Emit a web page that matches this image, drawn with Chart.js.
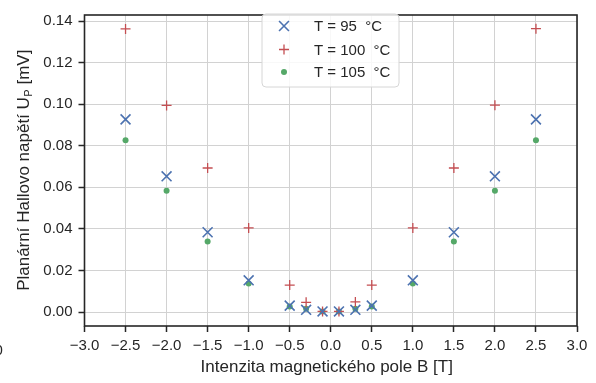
<!DOCTYPE html>
<html>
<head>
<meta charset="utf-8">
<script src="https://cdn.jsdelivr.net/npm/chart.js@4/dist/chart.umd.min.js"></script>
<style>
html,body{margin:0;padding:0;background:#fff;}
#wrap{width:596px;height:383px;position:relative;}
</style>
</head>
<body>
<div id="wrap"><canvas id="c" width="596" height="383"></canvas></div>
<script>
// ---- data ----
const bField = [-2.5, -2, -1.5, -1, -0.5, -0.3, -0.1, 0.1, 0.3, 0.5, 1, 1.5, 2, 2.5];
const u95  = [0.0927, 0.0653, 0.0384, 0.0153, 0.0031, 0.0011, 0.0003, 0.0003, 0.0011, 0.0031, 0.0153, 0.0384, 0.0653, 0.0927];
const u100 = [0.1362, 0.0994, 0.0693, 0.0405, 0.0130, 0.0047, 0.0003, 0.0003, 0.0049, 0.0130, 0.0405, 0.0693, 0.0995, 0.1363];
const u105 = [0.0826, 0.0584, 0.0340, 0.0137, 0.0027, 0.0016, 0.0003, 0.0003, 0.0016, 0.0027, 0.0137, 0.0340, 0.0584, 0.0826];
const seriesLabels = ['T = 95  °C', 'T = 100  °C', 'T = 105  °C'];
const xTicks = [-3, -2.5, -2, -1.5, -1, -0.5, 0, 0.5, 1, 1.5, 2, 2.5, 3];
const yTicks = [0, 0.02, 0.04, 0.06, 0.08, 0.10, 0.12, 0.14];
const xTitle = 'Intenzita magnetického pole B [T]';
const yTitleMain = 'Planární Hallovo napětí U';
const yTitleSub = 'P';
const yTitleEnd = ' [mV]';

const pts = arr => bField.map((b, i) => ({x: b, y: arr[i]}));
const FONT = '"Liberation Sans", Arial, sans-serif';
const TXT = '#262626';

const datasets = [
  {label: seriesLabels[0], data: pts(u95), pointStyle: 'crossRot', pointRadius: 7, borderColor: '#4C72B0', backgroundColor: '#4C72B0', pointBorderWidth: 1.6},
  {label: seriesLabels[1], data: pts(u100), pointStyle: 'cross', pointRadius: 5, borderColor: '#C44E52', backgroundColor: '#C44E52', pointBorderWidth: 1.3},
  {label: seriesLabels[2], data: pts(u105), pointStyle: 'circle', pointRadius: 3, borderColor: '#55A868', backgroundColor: '#55A868', pointBorderWidth: 0}
];

const fmtMinus = s => s.replace('-', '\u2212');

const deco = {
  id: 'deco',
  afterDatasetsDraw(chart) {
    const ctx = chart.ctx, a = chart.chartArea;
    ctx.save();
    // frame
    ctx.strokeStyle = '#262626';
    ctx.lineWidth = 1.6;
    ctx.strokeRect(a.left, a.top, a.right - a.left, a.bottom - a.top);
    // legend
    const lx = 262, ly = 14, lw = 137, lh = 73, r = 4;
    ctx.beginPath();
    ctx.moveTo(lx + r, ly);
    ctx.arcTo(lx + lw, ly, lx + lw, ly + lh, r);
    ctx.arcTo(lx + lw, ly + lh, lx, ly + lh, r);
    ctx.arcTo(lx, ly + lh, lx, ly, r);
    ctx.arcTo(lx, ly, lx + lw, ly, r);
    ctx.closePath();
    ctx.fillStyle = 'rgba(255,255,255,0.85)';
    ctx.fill();
    ctx.strokeStyle = '#d6d6d6';
    ctx.lineWidth = 1;
    ctx.stroke();
    const rows = [26, 49.5, 72];
    chart.data.datasets.forEach((ds, i) => {
      ctx.strokeStyle = ds.borderColor;
      ctx.fillStyle = ds.backgroundColor;
      ctx.lineWidth = ds.pointBorderWidth || 1;
      Chart.helpers.drawPoint(ctx, {pointStyle: ds.pointStyle, radius: ds.pointRadius, borderWidth: ds.pointBorderWidth}, 284, rows[i]);
      ctx.fillStyle = TXT;
      ctx.font = '15px ' + FONT;
      ctx.textAlign = 'left';
      ctx.textBaseline = 'middle';
      ctx.fillText(ds.label, 314, rows[i] + 1);
    });
    // x title
    ctx.fillStyle = TXT;
    ctx.font = '17px ' + FONT;
    ctx.textAlign = 'center';
    ctx.textBaseline = 'middle';
    ctx.fillText(xTitle, (a.left + a.right) / 2 - 4, 367);
    // y title with subscript
    ctx.save();
    ctx.translate(23, (a.top + a.bottom) / 2);
    ctx.rotate(-Math.PI / 2);
    ctx.font = '17px ' + FONT;
    const w1 = ctx.measureText(yTitleMain).width;
    ctx.font = '11px ' + FONT;
    const w2 = ctx.measureText(yTitleSub).width;
    ctx.font = '17px ' + FONT;
    const w3 = ctx.measureText(yTitleEnd).width;
    let x0 = -(w1 + w2 + w3) / 2;
    ctx.textAlign = 'left';
    ctx.textBaseline = 'alphabetic';
    ctx.fillText(yTitleMain, x0, 6);
    ctx.font = '11px ' + FONT;
    ctx.fillText(yTitleSub, x0 + w1 + 0.5, 8.5);
    ctx.font = '17px ' + FONT;
    ctx.fillText(yTitleEnd, x0 + w1 + w2 + 0.5, 6);
    ctx.restore();
    // clipped stray label at the left edge
    ctx.font = '15px ' + FONT;
    ctx.textAlign = 'left';
    ctx.textBaseline = 'middle';
    ctx.fillStyle = TXT;
    ctx.fillText('0', -5.5, 351);
    ctx.restore();
  }
};

new Chart(document.getElementById('c'), {
  type: 'scatter',
  data: {datasets},
  options: {
    responsive: false,
    animation: false,
    devicePixelRatio: 1,
    layout: {padding: {left: 0, right: 19, top: 6, bottom: 0}},
    plugins: {legend: {display: false}, tooltip: {enabled: false}},
    scales: {
      x: {
        type: 'linear', min: -3, max: 3,
        afterBuildTicks: s => { s.ticks = xTicks.map(v => ({value: v})); },
        afterFit: s => { s.height = 57; },
        grid: {color: '#d2d2d2', lineWidth: 1, tickColor: '#262626', tickLength: 6, tickWidth: 1.5},
        border: {display: false},
        ticks: {color: TXT, font: {family: FONT, size: 15}, padding: 5, maxRotation: 0,
          callback: v => fmtMinus(Number(v).toFixed(1))}
      },
      y: {
        type: 'linear', min: -0.0067, max: 0.1429,
        afterBuildTicks: s => { s.ticks = yTicks.map(v => ({value: v})); },
        afterFit: s => { s.width = 84.5; },
        grid: {color: '#d2d2d2', lineWidth: 1, tickColor: '#262626', tickLength: 6, tickWidth: 1.5},
        border: {display: false},
        ticks: {color: TXT, font: {family: FONT, size: 15}, padding: 6,
          callback: v => fmtMinus(Number(v).toFixed(2))}
      }
    }
  },
  plugins: [deco]
});
</script>
</body>
</html>
